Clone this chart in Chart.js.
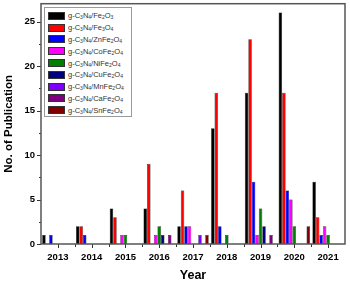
<!DOCTYPE html>
<html>
<head>
<meta charset="utf-8">
<script src="https://cdn.jsdelivr.net/npm/chart.js@4.4.0/dist/chart.umd.min.js"></script>
<style>
  body { margin: 0; background: #fff; }
  #wrap { position: relative; width: 350px; height: 282px; }
  #legend {
    position: absolute; left: 44px; top: 7px; width: 88px; height: 110px;
    border: 1px solid #999; background: #fff; box-sizing: border-box;
    font-family: "Liberation Sans", Arial, sans-serif; font-size: 7.5px; color: #333;
    padding-top: 2px;
  }
  .row { height: 11.8px; display: flex; align-items: center; }
  .sw { width: 17px; height: 8px; border: 1px solid #333; margin: 0 3px 0 3px; box-sizing: border-box; }
  .row sub { font-size: 5px; vertical-align: -1px; }
</style>
</head>
<body>
<div id="wrap">
  <canvas id="myChart" width="350" height="282"></canvas>
  <div id="legend"></div>
</div>
<script>
var years = ['2013', '2014', '2015', '2016', '2017', '2018', '2019', '2020', '2021'];
var names = ['g-C3N4/Fe2O3', 'g-C3N4/Fe3O4', 'g-C3N4/ZnFe2O4', 'g-C3N4/CoFe2O4', 'g-C3N4/NiFe2O4',
             'g-C3N4/CuFe2O4', 'g-C3N4/MnFe2O4', 'g-C3N4/CaFe2O4', 'g-C3N4/SnFe2O4'];
var colors = ['#000000', '#ff0000', '#0000ff', '#ff00ff', '#008000', '#000080', '#8000ff', '#800080', '#800000'];

var fe2o3   = [1, 2, 4, 4, 2, 13, 17, 26, 7];
var fe3o4   = [0, 2, 3, 9, 6, 17, 23, 17, 3];
var znfe2o4 = [1, 1, 0, 0, 2, 2, 7, 6, 1];
var cofe2o4 = [0, 0, 1, 1, 2, 0, 1, 5, 2];
var nife2o4 = [0, 0, 1, 2, 0, 1, 4, 2, 1];
var cufe2o4 = [0, 0, 0, 1, 0, 0, 2, 0, 0];
var mnfe2o4 = [0, 0, 0, 0, 1, 0, 0, 0, 0];
var cafe2o4 = [0, 0, 0, 1, 0, 0, 1, 0, 0];
var snfe2o4 = [0, 0, 0, 0, 1, 0, 0, 2, 0];
var yTicksMajor = 5;

var series = [fe2o3, fe3o4, znfe2o4, cofe2o4, nife2o4, cufe2o4, mnfe2o4, cafe2o4, snfe2o4];
var subDigits = {'2': '\u2082', '3': '\u2083', '4': '\u2084'};

function unicodeName(n) {
    return n.replace(/\d/g, function(d){ return subDigits[d]; });
}

var datasets = [];
for (var i = 0; i < series.length; i++) {
    datasets.push({
        label: unicodeName(names[i]),
        data: series[i],
        backgroundColor: colors[i],
        borderColor: '#000',
        borderWidth: 0.5,
        barPercentage: 1,
        categoryPercentage: 0.93
    });
}

// html legend with real subscripts
var legendHtml = '';
for (var i = 0; i < names.length; i++) {
    legendHtml += "<div class='row'><span class='sw' style='background:" + colors[i] + "'></span><span>" +
        names[i].replace(/(\d)/g, '<sub>$1</sub>') + "</span></div>";
}
document.getElementById('legend').innerHTML = legendHtml;

var frameTicks = {
    id: 'frameTicks',
    afterDraw: function(chart) {
        var ctx = chart.ctx, a = chart.chartArea, x = chart.scales.x, y = chart.scales.y;
        ctx.save();
        ctx.strokeStyle = '#333';
        ctx.lineWidth = 1;
        ctx.beginPath();
        y.ticks.forEach(function(t) {
            var py = Math.round(y.getPixelForValue(t.value)) + 0.5;
            var len = (t.value % yTicksMajor === 0) ? 4 : 2;
            ctx.moveTo(a.left - len, py);
            ctx.lineTo(a.left, py);
        });
        for (var i = 0; i < years.length; i++) {
            var px = Math.round(x.getPixelForValue(i)) + 0.5;
            ctx.moveTo(px, a.bottom);
            ctx.lineTo(px, a.bottom + 4);
            if (i < years.length - 1) {
                var bx = Math.round((x.getPixelForValue(i) + x.getPixelForValue(i + 1)) / 2) + 0.5;
                ctx.moveTo(bx, a.bottom);
                ctx.lineTo(bx, a.bottom + 3);
            }
        }
        ctx.stroke();
        ctx.strokeStyle = '#555';
        ctx.lineWidth = 1.5;
        ctx.strokeRect(a.left, a.top, a.right - a.left, a.bottom - a.top);
        ctx.restore();
    }
};

var ctx = document.getElementById('myChart').getContext('2d');
new Chart(ctx, {
    type: 'bar',
    data: { labels: years, datasets: datasets },
    plugins: [frameTicks],
    options: {
        responsive: false,
        animation: false,
        layout: { padding: { top: 3, right: 5, left: 0, bottom: 0 } },
        plugins: { legend: { display: false }, tooltip: { enabled: false } },
        scales: {
            x: {
                grid: { display: false },
                border: { display: false },
                ticks: {
                    color: '#000', padding: 0, maxRotation: 0,
                    font: { family: 'Liberation Sans', size: 9.5, weight: 'bold' }
                },
                title: {
                    display: true, text: 'Year', color: '#000',
                    padding: { top: 0, bottom: 0 },
                    font: { family: 'Liberation Sans', size: 12.5, weight: 'bold', lineHeight: 1.05 }
                },
                afterFit: function(s) { s.height = 38; }
            },
            y: {
                min: 0, max: 27,
                grid: { display: false },
                border: { display: false },
                ticks: {
                    stepSize: 2.5, includeBounds: false, color: '#000', padding: -2,
                    font: { family: 'Liberation Sans', size: 9.5, weight: 'bold' },
                    callback: function(v) { return v % yTicksMajor === 0 ? v : ''; }
                },
                title: {
                    display: true, text: 'No. of Publication', color: '#000',
                    padding: { top: 2, bottom: 0 },
                    font: { family: 'Liberation Sans', size: 11.5, weight: 'bold' }
                },
                afterFit: function(s) { s.width = 41; }
            }
        }
    }
});
</script>
</body>
</html>
